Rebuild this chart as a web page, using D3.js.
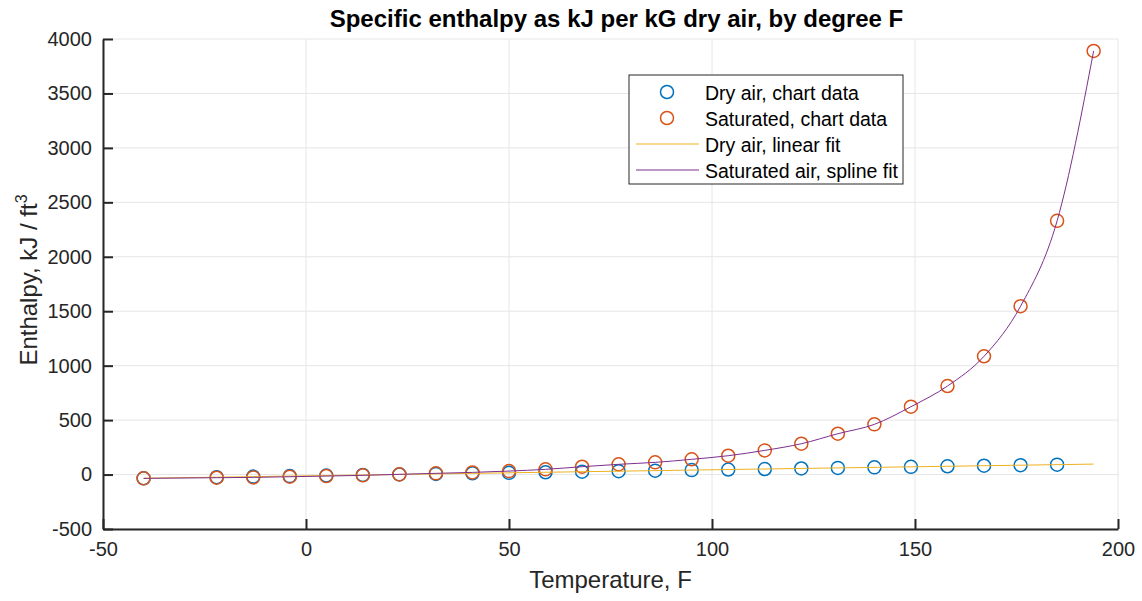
<!DOCTYPE html>
<html>
<head>
<meta charset="utf-8">
<script src="https://cdn.jsdelivr.net/npm/d3@7"></script>
<style>
  body { margin: 0; background: #fff; }
  svg text { font-family: "Liberation Sans", Arial, Helvetica, sans-serif; fill: #262626; }
</style>
</head>
<body>
<svg id="chart" width="1142" height="601"></svg>
<script>
// temperatures (F) where the chart was read
const tempsDry = [-40, -22, -13, -4, 5, 14, 23, 32, 41, 50, 59, 68, 77, 86, 95, 104, 113, 122, 131, 140, 149, 158, 167, 176, 185]
const tempsSat = [-40, -22, -13, -4, 5, 14, 23, 32, 41, 50, 59, 68, 77, 86, 95, 104, 113, 122, 131, 140, 149, 158, 167, 176, 185, 194]
// enthalpy readings
const hDry = [-34, -24, -19, -14, -9, -4, 1, 6, 11, 16, 21, 26, 31, 36, 41, 46, 51, 56, 61, 66, 71, 76, 81, 86, 91]
const hSat = [-35, -29, -26, -20, -14, -7, 2, 11, 20, 32, 48, 72, 94, 112, 140, 173, 222, 283, 375, 461, 623, 813, 1086, 1546, 2330, 3890]
const xTicks = [-50, 0, 50, 100, 150, 200]
const yTicks = [-500, 0, 500, 1000, 1500, 2000, 2500, 3000, 3500, 4000]
const legendLabels = ['Dry air, chart data', 'Saturated, chart data', 'Dry air, linear fit', 'Saturated air, spline fit']

const colBlue = '#0072BD'
const colOrange = '#D95319'
const colYellow = '#EDB120'
const colPurple = '#7E2F8E'

const svg = d3.select('#chart')
const margin = { top: 39, right: 24, bottom: 72, left: 103 }
const width = 1142
const height = 601
const innerWidth = width - margin.left - margin.right
const innerHeight = height - margin.top - margin.bottom

const dryData = tempsDry.map((t, i) => ({ t: t, h: hDry[i] }))
const satData = tempsSat.map((t, i) => ({ t: t, h: hSat[i] }))

// least squares fit of dry air readings
const mx = d3.mean(dryData, d => d.t)
const my = d3.mean(dryData, d => d.h)
const slope = d3.sum(dryData, d => (d.t - mx) * (d.h - my)) / d3.sum(dryData, d => (d.t - mx) * (d.t - mx))
const fitData = [tempsSat[0], tempsSat[tempsSat.length - 1]].map(t => ({ t: t, h: my + slope * (t - mx) }))

const xScale = d3.scaleLinear().domain([-50, 200]).range([0, innerWidth])
const yScale = d3.scaleLinear().domain([-500, 4000]).range([innerHeight, 0])

const g = svg.append('g')
  .attr('transform', `translate(${margin.left},${margin.top})`)

// grid
g.append('g').selectAll('line').data(xTicks)
  .enter().append('line')
  .attr('x1', d => xScale(d)).attr('x2', d => xScale(d))
  .attr('y1', 0).attr('y2', innerHeight)
  .attr('stroke', '#e6e6e6').attr('stroke-width', 1)
g.append('g').selectAll('line').data(yTicks)
  .enter().append('line')
  .attr('x1', 0).attr('x2', innerWidth)
  .attr('y1', d => yScale(d)).attr('y2', d => yScale(d))
  .attr('stroke', '#e6e6e6').attr('stroke-width', 1)

// axes
const xAxisG = g.append('g')
  .attr('transform', `translate(0,${innerHeight})`)
  .call(d3.axisBottom(xScale).tickValues(xTicks).tickFormat(d => String(d))
    .tickSizeInner(-10).tickSizeOuter(0).tickPadding(13))
const yAxisG = g.append('g')
  .call(d3.axisLeft(yScale).tickValues(yTicks).tickFormat(d => String(d))
    .tickSizeInner(-10).tickSizeOuter(0).tickPadding(11))

xAxisG.selectAll('.domain, .tick line').attr('stroke', '#262626').attr('stroke-width', 2)
yAxisG.selectAll('.domain, .tick line').attr('stroke', '#262626').attr('stroke-width', 2)
xAxisG.selectAll('.tick text').attr('font-size', 20).attr('fill', '#262626')
yAxisG.selectAll('.tick text').attr('font-size', 20).attr('fill', '#262626')

// markers
g.append('g').selectAll('circle').data(dryData)
  .enter().append('circle')
  .attr('cx', d => xScale(d.t))
  .attr('cy', d => yScale(d.h))
  .attr('r', 6.5)
  .attr('fill', 'none')
  .attr('stroke', colBlue)
  .attr('stroke-width', 1.5)

g.append('g').selectAll('circle').data(satData)
  .enter().append('circle')
  .attr('cx', d => xScale(d.t))
  .attr('cy', d => yScale(d.h))
  .attr('r', 6.5)
  .attr('fill', 'none')
  .attr('stroke', colOrange)
  .attr('stroke-width', 1.5)

// fits
const line = d3.line().x(d => xScale(d.t)).y(d => yScale(d.h))
g.append('path').datum(fitData)
  .attr('d', line)
  .attr('fill', 'none')
  .attr('stroke', colYellow)
  .attr('stroke-width', 1)

g.append('path').datum(satData)
  .attr('d', line.curve(d3.curveMonotoneX))
  .attr('fill', 'none')
  .attr('stroke', colPurple)
  .attr('stroke-width', 1)

// legend
const lg = svg.append('g').attr('transform', 'translate(629,75)')
lg.append('rect')
  .attr('width', 274).attr('height', 109)
  .attr('fill', '#fff').attr('stroke', '#262626').attr('stroke-width', 1)
const rows = lg.selectAll('g.row').data(legendLabels)
  .enter().append('g')
  .attr('class', 'row')
  .attr('transform', (d, i) => `translate(0,${17 + i * 26})`)
rows.append('text')
  .attr('x', 76).attr('y', 1).attr('dy', '0.35em')
  .attr('font-size', 19.5)
  .style('fill', '#000')
  .text(d => d)
rows.filter((d, i) => i < 2).append('circle')
  .attr('cx', 38).attr('cy', 0).attr('r', 6.5)
  .attr('fill', 'none')
  .attr('stroke', (d, i) => i === 0 ? colBlue : colOrange)
  .attr('stroke-width', 1.5)
rows.filter((d, i) => i >= 2).append('line')
  .attr('x1', 7).attr('x2', 70).attr('y1', 0).attr('y2', 0)
  .attr('stroke', (d, i) => i === 0 ? colYellow : colPurple)
  .attr('stroke-width', 1)

// titles
svg.append('text')
  .attr('x', margin.left + innerWidth / 2 + 6).attr('y', 27)
  .attr('text-anchor', 'middle')
  .attr('font-size', 24).attr('font-weight', 'bold')
  .style('fill', '#000')
  .text('Specific enthalpy as kJ per kG dry air, by degree F')

svg.append('text')
  .attr('x', margin.left + innerWidth / 2).attr('y', 588)
  .attr('text-anchor', 'middle')
  .attr('font-size', 24)
  .text('Temperature, F')

const yLabel = svg.append('text')
  .attr('transform', `translate(37,${margin.top + innerHeight / 2 - 4}) rotate(-90)`)
  .attr('text-anchor', 'middle')
  .attr('font-size', 24)
yLabel.append('tspan').text('Enthalpy, kJ / ft')
yLabel.append('tspan').attr('font-size', 16).attr('dy', -10).text('3')
</script>
</body>
</html>
